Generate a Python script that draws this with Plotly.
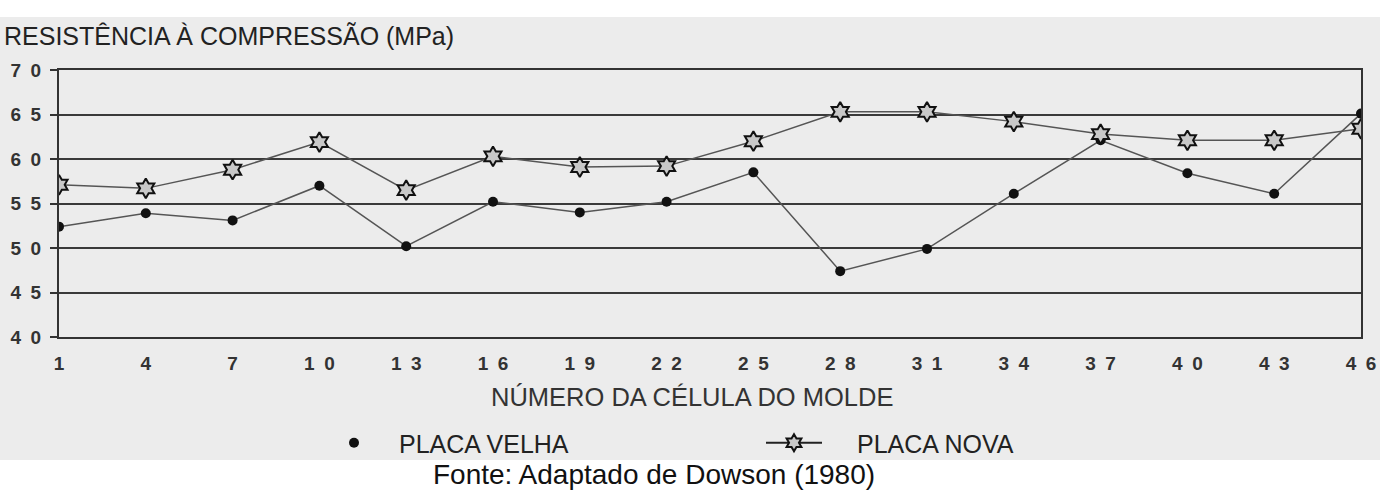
import plotly.graph_objects as go

celulas = [1, 4, 7, 10, 13, 16, 19, 22, 25, 28, 31, 34, 37, 40, 43, 46]
placa_velha = [52.4, 53.9, 53.1, 57.0, 50.2, 55.2, 54.0, 55.2, 58.5, 47.4, 49.9, 56.1, 62.1, 58.4, 56.1, 65.1]
placa_nova = [57.1, 56.7, 58.8, 61.9, 56.5, 60.3, 59.1, 59.2, 62.0, 65.3, 65.3, 64.2, 62.8, 62.1, 62.1, 63.4]
x_ticks = celulas
x_ticktext = ["1", "4", "7", "1\u20020", "1\u20023", "1\u20026", "1\u20029", "2\u20022", "2\u20025",
              "2\u20028", "3\u20021", "3\u20024", "3\u20027", "4\u20020", "4\u20023", "4\u20026"]
y_ticks = [40, 45, 50, 55, 60, 65, 70]
y_ticktext = ["4\u20020", "4\u20025", "5\u20020", "5\u20025", "6\u20020", "6\u20025", "7\u20020"]

W, H = 1380, 490
ML, MR, MT, MB = 59, 19, 70, 153
PW, PH = W - ML - MR, H - MT - MB

def px_x(p):
    return (p - ML) / PW

def px_y(p):
    return (H - MB - p) / PH

FONT = "Liberation Sans, Arial, sans-serif"

fig = go.Figure()

fig.add_trace(go.Scatter(
    x=celulas, y=placa_velha, mode="lines+markers", showlegend=False,
    line=dict(color="#555555", width=1.5),
    marker=dict(symbol="circle", size=10, color="#111111"),
))
fig.add_trace(go.Scatter(
    x=celulas, y=placa_nova, mode="lines+markers", showlegend=False,
    line=dict(color="#555555", width=1.5),
    marker=dict(symbol="hexagram", size=15, color="#c8c8c8", line=dict(color="#111111", width=2)),
))
# legend entries
fig.add_trace(go.Scatter(
    x=[None], y=[None], mode="markers", name="\u2003PLACA VELHA", legend="legend",
    marker=dict(symbol="circle", size=10, color="#111111"),
))
fig.add_trace(go.Scatter(
    x=[None], y=[None], mode="lines+markers", name="\u2003\u2009PLACA NOVA", legend="legend2",
    line=dict(color="#222222", width=2),
    marker=dict(symbol="hexagram", size=13, color="#c8c8c8", line=dict(color="#111111", width=2)),
))

fig.update_layout(
    width=W, height=H,
    margin=dict(l=ML, r=MR, t=MT, b=MB, autoexpand=False),
    paper_bgcolor="white",
    plot_bgcolor="rgba(0,0,0,0)",
    font=dict(family=FONT, color="#222222"),
    shapes=[dict(type="rect", xref="paper", yref="paper",
                 x0=px_x(-5), x1=px_x(W + 5), y0=px_y(460), y1=px_y(17),
                 fillcolor="#ececec", line=dict(width=0), layer="below")],
    legend=dict(orientation="h", x=px_x(334), xanchor="left", y=px_y(443), yanchor="middle",
                bgcolor="rgba(0,0,0,0)", font=dict(size=25, color="#222222", family=FONT),
                itemwidth=30),
    legend2=dict(orientation="h", x=px_x(761), xanchor="left", y=px_y(443), yanchor="middle",
                 bgcolor="rgba(0,0,0,0)", font=dict(size=25, color="#222222", family=FONT),
                 itemwidth=56),
    annotations=[
        dict(text="RESISTÊNCIA À COMPRESSÃO (MPa)", xref="paper", yref="paper",
             x=px_x(2), y=px_y(36), xanchor="left", yanchor="middle", showarrow=False,
             font=dict(size=25, color="#222222", family=FONT)),
        dict(text="NÚMERO DA CÉLULA DO MOLDE", xref="paper", yref="paper",
             x=px_x(692), y=px_y(397), xanchor="center", yanchor="middle", showarrow=False,
             font=dict(size=25.5, color="#333333", family=FONT)),
        dict(text="Fonte: Adaptado de Dowson (1980)", xref="paper", yref="paper",
             x=px_x(654), y=px_y(474), xanchor="center", yanchor="middle", showarrow=False,
             font=dict(size=28, color="#111111", family=FONT)),
    ],
)

fig.update_xaxes(
    range=[1, 46], tickvals=x_ticks, ticktext=x_ticktext, automargin=False,
    showgrid=False, zeroline=False,
    showline=True, linecolor="#333333", linewidth=2, mirror=True,
    ticks="", ticklabelstandoff=8,
    tickfont=dict(size=19, color="#333333", family=FONT, weight="bold"),
)
fig.update_yaxes(
    range=[40, 70], tickvals=y_ticks, ticktext=y_ticktext, automargin=False,
    showgrid=True, gridcolor="#3a3a3a", gridwidth=2, zeroline=False,
    showline=True, linecolor="#333333", linewidth=2, mirror=True,
    ticks="outside", ticklen=7, tickcolor="#333333", tickwidth=1.5, ticklabelstandoff=5,
    tickfont=dict(size=19, color="#333333", family=FONT, weight="bold"),
)

fig.write_html("out.html", config={"displayModeBar": False},
               post_script="document.body.style.margin='0';document.body.style.overflow='hidden';")
